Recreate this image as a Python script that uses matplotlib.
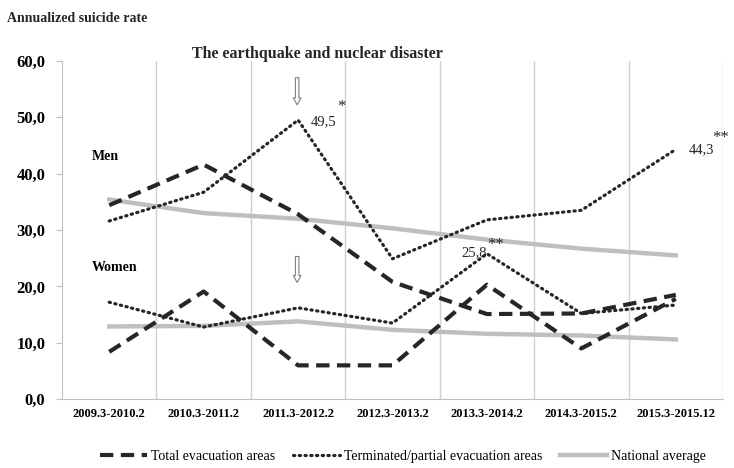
import matplotlib.pyplot as plt

plt.rcParams['font.family'] = ['Liberation Serif', 'DejaVu Serif']

periods = ["2009.3-2010.2", "2010.3-2011.2", "2011.3-2012.2", "2012.3-2013.2",
           "2013.3-2014.2", "2014.3-2015.2", "2015.3-2015.12"]

# Men
men_total = [34.4, 41.6, 32.8, 20.8, 15.1, 15.2, 18.5]
men_partial = [31.6, 36.7, 49.5, 24.9, 31.8, 33.5, 44.3]
men_national = [35.4, 33.0, 32.0, 30.3, 28.3, 26.7, 25.5]

# Women
women_total = [8.4, 19.1, 6.0, 6.0, 20.3, 9.0, 17.8]
women_partial = [17.2, 12.8, 16.2, 13.5, 25.8, 15.2, 16.7]
women_national = [12.9, 13.0, 13.8, 12.3, 11.6, 11.3, 10.6]

x = list(range(len(periods)))

fig = plt.figure(figsize=(7.34, 4.68), dpi=100)
ax = fig.add_axes([0.0845, 0.147, 0.9005, 0.723])

dash_kw = dict(color='#262626', lw=3, linestyle=(0, (3.2, 1.8)))
dot_kw = dict(color='#262626', lw=2.3, linestyle=(0, (0.4, 1.4)), dash_capstyle='round')
nat_kw = dict(color='#bfbfbf', lw=3.2)

ax.plot(x, men_national, **nat_kw, label='National average')
ax.plot(x, women_national, **nat_kw)
ax.plot(x, men_total, **dash_kw, label='Total evacuation areas')
ax.plot(x, women_total, **dash_kw)
ax.plot(x, men_partial, **dot_kw, label='Terminated/partial evacuation areas')
ax.plot(x, women_partial, **dot_kw)

ax.set_xlim(-0.5, 6.5)
ax.set_ylim(0, 60)
ax.set_yticks(range(0, 61, 10))
ax.set_yticklabels([f"{v},0" for v in range(0, 61, 10)], fontsize=12, fontweight='bold')
ax.set_xticks(x)
ax.set_xticklabels(periods, fontsize=9, fontweight='bold')
ax.tick_params(axis='x', length=0, pad=6)
ax.tick_params(axis='y', length=4, color='#bfbfbf', pad=8)

ax.set_xticks([i + 0.5 for i in x], minor=True)
ax.tick_params(axis='x', which='minor', length=0)
ax.grid(axis='x', which='minor', color='#d0d0d0', lw=1)
ax.grid(axis='x', which='major', visible=False)

for s in ['top', 'right']:
    ax.spines[s].set_visible(False)
for s in ['left', 'bottom']:
    ax.spines[s].set_color('#bfbfbf')

# value labels
ax.text(2.13, 49.2, "49,5", fontsize=10.5, ha='left', va='center', color='#262626')
ax.text(2.41, 51.9, "*", fontsize=12, ha='left', va='center', color='#262626')
ax.text(6.14, 44.2, "44,3", fontsize=10.5, ha='left', va='center', color='#262626')
ax.text(6.39, 46.4, "**", fontsize=12, ha='left', va='center', color='#262626', clip_on=False)
ax.text(4.0, 26.0, "25,8", fontsize=10.5, ha='right', va='center', color='#262626')
ax.text(4.0, 27.3, "**", fontsize=12, ha='left', va='center', color='#262626')

ax.text(-0.18, 43.0, "Men", fontsize=10, fontweight='bold', ha='left', va='center')
ax.text(-0.18, 23.3, "Women", fontsize=10, fontweight='bold', ha='left', va='center')

# arrows
arrow_kw = dict(arrowstyle='simple,head_width=0.55,head_length=0.5,tail_width=0.25',
                fc='white', ec='#7f7f7f', lw=0.8)
ax.annotate('', xy=(1.99, 51.7), xytext=(1.99, 57.5), arrowprops=arrow_kw)
ax.annotate('', xy=(1.99, 20.2), xytext=(1.99, 25.8), arrowprops=arrow_kw)

fig.text(0.261, 0.867, "The earthquake and nuclear disaster", fontsize=11.5,
         fontweight='bold', ha='left', va='bottom', color='#262626')
fig.text(0.01, 0.975, "Annualized suicide rate", fontsize=10, fontweight='bold',
         ha='left', va='top', color='#262626')

handles, labels = ax.get_legend_handles_labels()
order = [1, 2, 0]
fig.legend([handles[i] for i in order], [labels[i] for i in order],
           loc='center', bbox_to_anchor=(0.549, 0.025), ncol=3, frameon=False,
           fontsize=10, handlelength=3.4, columnspacing=1.3, handletextpad=0.25)

fig.savefig('out.png', dpi=100)
